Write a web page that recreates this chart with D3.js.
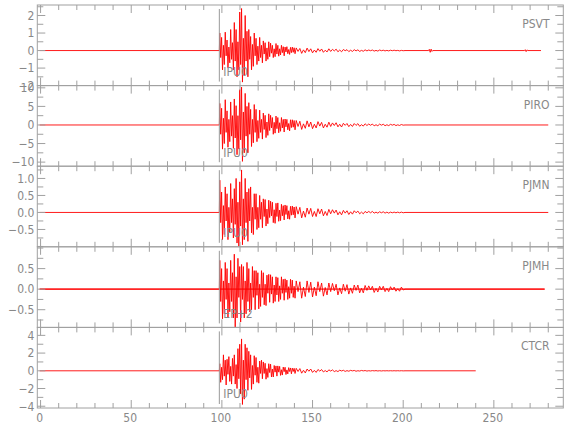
<!DOCTYPE html>
<html><head><meta charset="utf-8">
<script src="https://cdn.jsdelivr.net/npm/d3@7"></script>
<style>
html,body{margin:0;padding:0;background:#fff;}
text{font-family:"Liberation Sans Narrow","DejaVu Sans Condensed","Liberation Sans",sans-serif;fill:#888;}
</style></head>
<body><svg id="c" width="580" height="440"></svg>
<script>
// ---------- data ----------
const stations = ["PSVT","PIRO","PJMN","PJMH","CTCR"];
const phaseLabels = ["IPU0","IPU0","IPU0","EP+2","IPU0"];
const pickTimes = [98.6,98.6,98.6,98.6,98.6];
const traceStart = [-0.5,-0.5,-0.5,-0.5,-0.5];
const traceEnd = [276,280,280,278,240];
const yDomains = [[-2.0,2.6],[-11.1,10.6],[-1.01,1.36],[-0.93,1.03],[-4.2,4.9]];
const yLabels = [[-2,-1,0,1,2],[-10,-5,0,5,10],[-0.5,0,0.5,1.0],[-0.5,0,0.5],[-4,-2,0,2,4]];
const yMinorSteps = [0.5,2.5,0.25,0.25,1];
const yLabelDecimals = [0,0,1,1,0];
const xDomain = [-1.8,288.3];
const xLabels = [0,50,100,150,200,250];
const baselineNoise = [0,0,0,0.022,0];
// strong motion: samples every 0.5 s from 98.85 s
const mainStart = 98.85, mainStep = 0.5;
// coda: samples every 1 s from 141 s
const codaStart = 141, codaStep = 1;
const mainPSVT = [1.0,-0.4,0.75,-1.1,0.3,-0.8,1.05,-0.3, 0.6,-1.0,0.2,-0.7,1.2,-0.5,0.45,-1.1,
 1.6,-0.6,1.2,-1.5,0.5,-1.1,2.2,-0.8, 2.4,-1.8,0.7,-1.4,2.0,-0.6,1.1,-1.5,
 1.2,-0.5,0.8,-1.1,0.35,-0.9,1.0,-0.3, 0.7,-0.8,0.25,-0.6,0.75,-0.4,0.3,-0.7,
 0.55,-0.2,0.45,-0.6,0.15,-0.5,0.5,-0.35, 0.42,-0.15,0.3,-0.4,0.1,-0.35,0.4,-0.2,
 0.3,-0.32,0.1,-0.25,0.3,-0.12,0.22,-0.3, 0.2,-0.08,0.22,-0.18,0.06,-0.22,0.18,-0.12,
 0.2,-0.1,0.16,-0.18];
const codaPSVT = [0.15,-0.05,0.12,-0.16,0.04,-0.12,0.14,-0.06,0.1,-0.13,
 0.03,-0.1,0.11,-0.04,0.09,-0.1,0.02,-0.08,0.1,-0.05,
 0.07,-0.02,0.08,-0.07,0.03,-0.07,0.06,-0.01,0.05,-0.06,
 0.02,-0.05,0.05,-0.02,0.04,-0.05,0.01,-0.04,0.04,-0.02,
 0.03,-0.01,0.03,-0.03,0.01,-0.03,0.03,-0.01,0.02,-0.02,
 0.01,-0.02,0.02,-0.01,0.02,-0.01,0.01,-0.02,0.01,-0.01];
const mainPIRO = [5.8,-2.5,4.5,-6.5,1.8,-5.0,6.8,-2.0, 3.8,-6.0,1.5,-4.5,6.2,-3.0,2.5,-6.3,
 7.0,-3.5,5.2,-8.0,2.5,-6.5,9.5,-4.0, 10.2,-9.8,3.5,-7.5,8.5,-3.0,5.0,-7.5,
 6.0,-2.5,4.2,-5.8,1.5,-4.8,5.5,-2.0, 4.2,-4.5,1.2,-3.6,4.0,-2.0,1.5,-3.8,
 3.2,-1.2,2.6,-3.4,0.8,-2.8,3.0,-1.5, 2.6,-0.8,2.0,-2.5,0.7,-2.2,2.4,-1.0,
 2.0,-2.1,0.6,-1.7,2.0,-0.8,1.5,-1.9, 1.6,-0.5,1.5,-1.3,0.4,-1.6,1.4,-0.7,
 1.4,-0.6,1.2,-1.3];
const codaPIRO = [1.2,-0.4,1.0,-1.2,0.3,-0.9,1.1,-0.5,0.8,-1.0,
 0.2,-0.8,0.9,-0.3,0.7,-0.8,0.2,-0.6,0.75,-0.4,
 0.55,-0.15,0.6,-0.5,0.2,-0.55,0.45,-0.1,0.4,-0.45,
 0.15,-0.4,0.38,-0.12,0.35,-0.35,0.08,-0.3,0.32,-0.15,
 0.25,-0.08,0.26,-0.24,0.07,-0.22,0.24,-0.06,0.2,-0.2,
 0.06,-0.18,0.17,-0.05,0.15,-0.16,0.04,-0.13,0.12,-0.05];
const mainPJMN = [0.95,-0.3,0.6,-0.8,0.2,-0.65,0.75,-0.25, 0.55,-0.8,0.15,-0.6,0.85,-0.3,0.4,-0.75,
 0.7,-0.35,1.0,-0.9,0.3,-1.0,0.9,-0.4, 1.25,-0.95,0.4,-0.8,1.0,-0.3,0.6,-0.85,
 0.7,-0.25,0.75,-0.6,0.15,-0.65,0.55,-0.2, 0.55,-0.5,0.15,-0.45,0.5,-0.2,0.3,-0.45,
 0.4,-0.12,0.38,-0.4,0.1,-0.33,0.36,-0.15, 0.33,-0.1,0.3,-0.3,0.08,-0.32,0.27,-0.12,
 0.28,-0.26,0.07,-0.24,0.24,-0.1,0.2,-0.22, 0.22,-0.06,0.2,-0.19,0.05,-0.2,0.18,-0.08,
 0.19,-0.07,0.16,-0.16];
const codaPJMN = [0.17,-0.05,0.15,-0.16,0.04,-0.14,0.13,-0.05,0.12,-0.12,
 0.03,-0.12,0.11,-0.04,0.1,-0.1,0.03,-0.09,0.09,-0.04,
 0.08,-0.02,0.07,-0.07,0.02,-0.07,0.06,-0.02,0.05,-0.06,
 0.02,-0.05,0.05,-0.01,0.04,-0.04,0.01,-0.04,0.03,-0.01,
 0.03,-0.01,0.03,-0.02,0.01,-0.02,0.02,-0.01,0.02,-0.02,
 0.01,-0.02,0.01,-0.01,0.01,-0.01,0.01,-0.01,0.01,-0.01];
const mainPJMH = [0.7,-0.3,0.5,-0.72,0.2,-0.6,0.65,-0.25, 0.5,-0.7,0.15,-0.55,0.7,-0.3,0.4,-0.7,
 0.85,-0.92,0.3,-0.7,0.75,-0.2,0.55,-0.8, 0.6,-0.25,0.55,-0.7,0.2,-0.6,0.65,-0.3,
 0.5,-0.55,0.15,-0.5,0.55,-0.2,0.45,-0.5, 0.45,-0.15,0.4,-0.48,0.12,-0.42,0.45,-0.2,
 0.4,-0.38,0.12,-0.4,0.34,-0.1,0.36,-0.32, 0.35,-0.12,0.3,-0.34,0.1,-0.3,0.3,-0.14,
 0.28,-0.3,0.08,-0.25,0.3,-0.1,0.24,-0.27, 0.25,-0.08,0.22,-0.25,0.06,-0.22,0.24,-0.1,
 0.22,-0.2,0.07,-0.22];
const codaPJMH = [0.2,-0.06,0.18,-0.22,0.05,-0.18,0.2,-0.08,0.17,-0.19,
 0.05,-0.16,0.18,-0.06,0.15,-0.17,0.04,-0.14,0.15,-0.06,
 0.14,-0.04,0.12,-0.14,0.03,-0.11,0.12,-0.05,0.11,-0.12,
 0.03,-0.1,0.1,-0.03,0.1,-0.09,0.02,-0.09,0.09,-0.03,
 0.08,-0.02,0.07,-0.08,0.02,-0.07,0.07,-0.02,0.07,-0.06,
 0.02,-0.06,0.06,-0.02,0.05,-0.05,0.01,-0.05,0.05,-0.02];
const mainCTCR = [0.8,-1.3,0.4,-1.0,1.8,-0.6,1.2,-1.6, 1.3,-0.4,1.6,-1.2,0.5,-1.5,1.4,-0.6,
 1.8,-1.5,0.7,-2.0,2.5,-0.9,3.0,-2.6, 3.6,-3.8,1.2,-3.2,3.0,-1.0,2.6,-2.2,
 2.2,-0.8,1.8,-2.1,0.6,-1.5,1.7,-0.5, 1.5,-1.3,0.4,-1.4,1.1,-0.3,1.2,-0.9,
 1.0,-0.3,0.85,-0.95,0.25,-0.75,0.8,-0.2, 0.75,-0.7,0.2,-0.7,0.6,-0.15,0.55,-0.6,
 0.55,-0.15,0.5,-0.52,0.12,-0.48,0.42,-0.1, 0.4,-0.42,0.1,-0.35,0.36,-0.08,0.32,-0.34,
 0.3,-0.08,0.28,-0.3];
const codaCTCR = [0.28,-0.08,0.25,-0.27,0.06,-0.24,0.2,-0.05,0.2,-0.18,
 0.05,-0.18,0.15,-0.04,0.14,-0.13,0.03,-0.13,0.11,-0.03,
 0.1,-0.09,0.02,-0.09,0.07,-0.02,0.06,-0.07,0.02,-0.05,
 0.05,-0.01,0.04,-0.05,0.01,-0.03,0.04,-0.01,0.03,-0.03,
 0.01,-0.02,0.02,-0.01,0.02,-0.02,0.01,-0.02,0.01,-0.01,
 0.01,-0.01,0.01,-0.01,0.01,-0.01,0.01,-0.01,0.01,-0.01];
const mainValues = [mainPSVT,mainPIRO,mainPJMN,mainPJMH,mainCTCR];
const codaValues = [codaPSVT,codaPIRO,codaPJMN,codaPJMH,codaCTCR];
// isolated later arrivals [time, value]
const extraEvents = [
 [[214.0,0],[214.4,0.07],[214.9,-0.1],[215.4,0.08],[215.9,-0.05],[216.3,0],
  [266.9,0],[267.3,0.05],[267.8,-0.06],[268.3,0.04],[268.7,0]],
 [],[],[],[]];

// ---------- layout ----------
const svg = d3.select("#c");
const left = 37.3, right = 563.3, top0 = 5, panelH = 80.6;
const frameColor = "#a0a0a0";
const x = d3.scaleLinear().domain(xDomain).range([left,right]);
const xMinor = d3.range(0, 290, 10);

stations.forEach((name,i)=>{
  const t = top0 + i*panelH, b = t + panelH;
  const y = d3.scaleLinear().domain(yDomains[i]).range([b,t]);
  const g = svg.append("g");

  const pts = [[traceStart[i],0],[pickTimes[i],0]];
  mainValues[i].forEach((v,k)=>pts.push([mainStart+k*mainStep,v]));
  codaValues[i].forEach((v,k)=>pts.push([codaStart+k*codaStep,v]));
  pts.push([codaStart+codaValues[i].length*codaStep,0]);
  extraEvents[i].forEach(e=>pts.push(e));
  pts.push([traceEnd[i],0]);
  pts.sort((a,c)=>a[0]-c[0]);

  if (baselineNoise[i]>0){
    g.append("path")
      .datum([[traceStart[i]],[traceEnd[i]]])
      .attr("d", d3.area().x(d=>x(d[0])).y0(y(-baselineNoise[i])).y1(y(baselineNoise[i])))
      .attr("fill","#ff2020").attr("opacity",0.75);
  }
  g.append("path").datum(pts)
    .attr("d", d3.line().x(d=>x(d[0])).y(d=>y(d[1])))
    .attr("fill","none").attr("stroke","#ff0000").attr("stroke-width",0.9);

  g.append("line").attr("x1",x(pickTimes[i])).attr("x2",x(pickTimes[i]))
    .attr("y1",t+4).attr("y2",b-4).attr("stroke","#999").attr("stroke-width",1);
  g.append("text").attr("x",x(pickTimes[i])+4).attr("y",t+71)
    .attr("font-size",12).text(phaseLabels[i]);

  g.append("rect").attr("x",left).attr("y",t).attr("width",right-left).attr("height",panelH)
    .attr("fill","none").attr("stroke",frameColor).attr("stroke-width",1);

  xMinor.forEach(v=>{
    if (x(v)<left||x(v)>right) return;
    const len = v%50===0 ? 8 : 5;
    g.append("line").attr("x1",x(v)).attr("x2",x(v)).attr("y1",t).attr("y2",t+len).attr("stroke",frameColor);
    g.append("line").attr("x1",x(v)).attr("x2",x(v)).attr("y1",b).attr("y2",b-len).attr("stroke",frameColor);
  });
  const [ymin,ymax] = yDomains[i], st = yMinorSteps[i];
  for (let v=Math.ceil(ymin/st-1e-9)*st; v<=ymax+1e-9; v+=st){
    const isLab = yLabels[i].some(l=>Math.abs(l-v)<1e-6);
    const len = isLab ? 8 : 6;
    g.append("line").attr("x1",left).attr("x2",left+len).attr("y1",y(v)).attr("y2",y(v)).attr("stroke",frameColor);
    g.append("line").attr("x1",right).attr("x2",right-len).attr("y1",y(v)).attr("y2",y(v)).attr("stroke",frameColor);
  }
  const fmt = d3.format("."+yLabelDecimals[i]+"f");
  yLabels[i].forEach(v=>{
    g.append("text").attr("x",left-3).attr("y",y(v)).attr("dy","0.36em")
      .attr("text-anchor","end").attr("font-size",12).text(fmt(v));
  });
  g.append("text").attr("x",549.5).attr("y",t+23).attr("text-anchor","end")
    .attr("font-size",12).text(name);

  if (i===stations.length-1){
    xLabels.forEach(v=>{
      g.append("text").attr("x",x(v)-1).attr("y",b+14).attr("text-anchor","middle")
        .attr("font-size",12).text(v);
    });
  }
});
</script></body></html>
